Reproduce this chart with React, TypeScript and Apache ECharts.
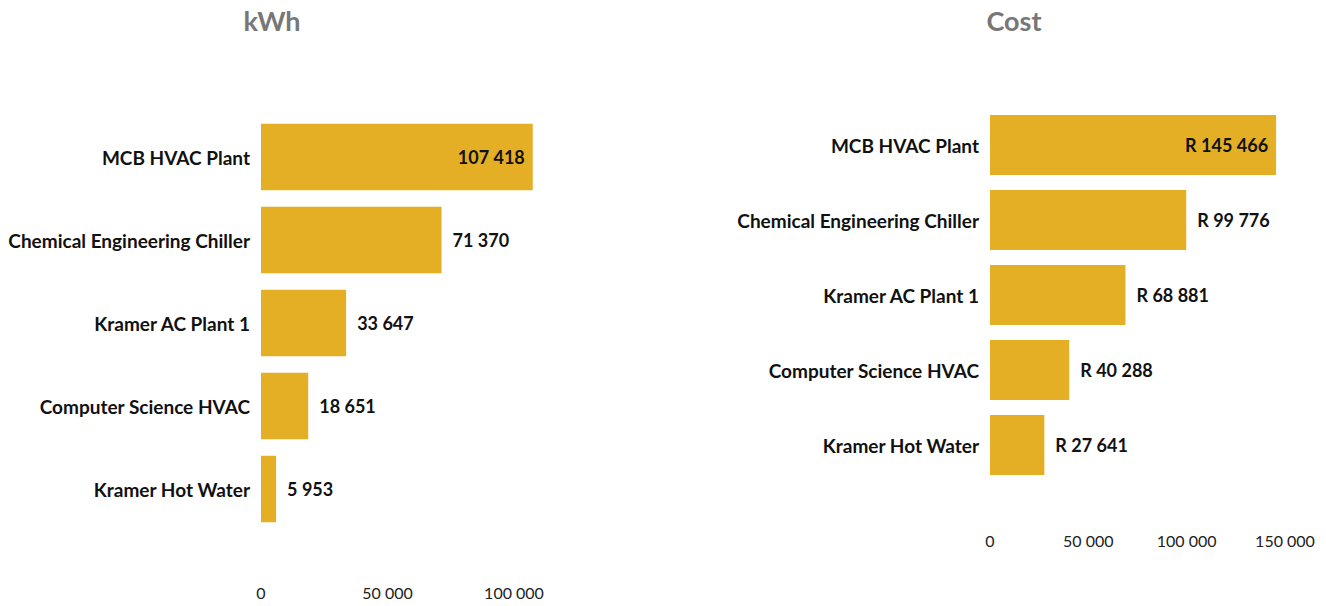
import React, { useEffect, useRef } from "react";
import * as echarts from "echarts";

const categories = [
  "MCB HVAC Plant",
  "Chemical Engineering Chiller",
  "Kramer AC Plant 1",
  "Computer Science HVAC",
  "Kramer Hot Water",
];
const kwhValues = [107418, 71370, 33647, 18651, 5953];
const costValues = [145466, 99776, 68881, 40288, 27641];
const titles = ["kWh", "Cost"];

const BAR = "#E4AF25";
const FONT = "Lato";

const fmt = (v: number) =>
  String(Math.round(v)).replace(/\B(?=(\d{3})+(?!\d))/g, " ");

function barData(values: number[]) {
  const maxIdx = values.indexOf(Math.max(...values));
  return values.map((v, i) =>
    i === maxIdx
      ? { value: v, label: { position: "insideRight", distance: 8 } }
      : v
  );
}

export default function App() {
  const ref = useRef<HTMLDivElement>(null);
  useEffect(() => {
    const chart = echarts.init(ref.current!, null, { renderer: "svg" });
    const catAxis = (gi: number) => ({
      type: "category",
      gridIndex: gi,
      data: categories,
      inverse: true,
      axisLine: { show: false },
      axisTick: { show: false },
      axisLabel: {
        margin: 11,
        fontFamily: FONT,
        fontWeight: "bold",
        fontSize: 19,
        color: "#111",
      },
    });
    const valAxis = (gi: number, max: number, margin: number) => ({
      type: "value",
      gridIndex: gi,
      min: 0,
      max,
      interval: 50000,
      splitLine: { show: false },
      axisLine: { show: false },
      axisTick: { show: false },
      axisLabel: {
        margin,
        showMaxLabel: max % 50000 === 0,
        fontFamily: FONT,
        fontSize: 16,
        color: "#222",
        formatter: (v: number) => fmt(v),
      },
    });
    const labelStyle = {
      show: true,
      position: "right",
      distance: 11,
      fontFamily: FONT,
      fontWeight: "bold",
      fontSize: 18,
      color: "#111",
    };
    const titleStyle = {
      fontFamily: FONT,
      fontWeight: "bold",
      fontSize: 27,
      fill: "#777",
      textAlign: "center",
      textVerticalAlign: "middle",
    };
    chart.setOption({
      animation: false,
      backgroundColor: "#fff",
      graphic: [
        { type: "text", style: { ...titleStyle, text: titles[0], x: 272, y: 20 } },
        { type: "text", style: { ...titleStyle, text: titles[1], x: 1014, y: 20 } },
      ],
      grid: [
        { left: 261, top: 115.5, width: 278.3, height: 415 },
        { left: 990, top: 107.5, width: 295, height: 375 },
      ],
      xAxis: [valAxis(0, 110000, 54), valAxis(1, 150000, 50)],
      yAxis: [catAxis(0), catAxis(1)],
      series: [
        {
          type: "bar",
          xAxisIndex: 0,
          yAxisIndex: 0,
          data: barData(kwhValues),
          barCategoryGap: "20%",
          itemStyle: { color: BAR },
          label: { ...labelStyle, formatter: (p: any) => fmt(p.value) },
        },
        {
          type: "bar",
          xAxisIndex: 1,
          yAxisIndex: 1,
          data: barData(costValues),
          barCategoryGap: "20%",
          itemStyle: { color: BAR },
          label: { ...labelStyle, formatter: (p: any) => "R " + fmt(p.value) },
        },
      ],
    });
    return () => chart.dispose();
  }, []);
  return (
    <div
      ref={ref}
      style={{ position: "fixed", left: 0, top: 0, width: 1326, height: 606 }}
    />
  );
}
